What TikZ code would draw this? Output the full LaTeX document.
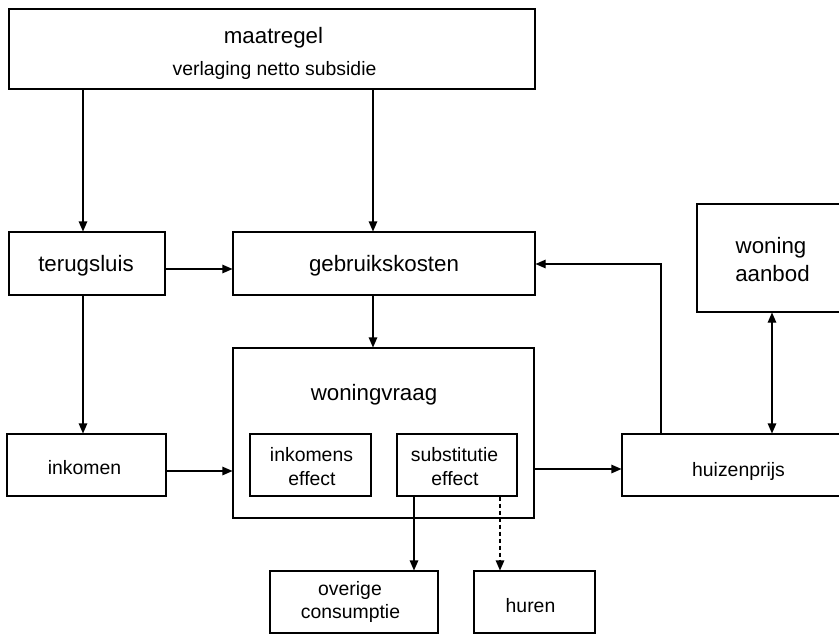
\documentclass[tikz,border=0pt]{standalone}
\usepackage{fontspec}
\setmainfont{Liberation Sans}
\usetikzlibrary{arrows.meta}
\begin{document}
\begin{tikzpicture}[x=1pt,y=-1pt,
 box/.style={draw=black, line width=1.1pt, rectangle, inner sep=0pt},
 big/.style={font=\fontsize{22.3}{26.7}\selectfont, inner sep=0pt, anchor=base},
 small/.style={font=\fontsize{19.4}{22.7}\selectfont, inner sep=0pt, anchor=base},
 arr/.style={line width=1.1pt, -{Triangle[length=10pt,width=8.5pt]}},
 darr/.style={line width=1.1pt, {Triangle[length=10pt,width=8.5pt]}-{Triangle[length=10pt,width=8.5pt]}},
]
\useasboundingbox (0,0) rectangle (839,635);
\clip (0,0) rectangle (839,635);

% boxes
\node[box, minimum width=526pt, minimum height=80pt] (maatregel) at (272,49) {};
\node[box, minimum width=156pt, minimum height=63pt] (terugsluis) at (87,263.5) {};
\node[box, minimum width=302pt, minimum height=63pt] (gebruik) at (384,263.5) {};
\node[box, minimum width=151pt, minimum height=108pt] (aanbod) at (772.5,258) {};
\node[box, minimum width=301pt, minimum height=170pt] (vraag) at (383.5,433) {};
\node[box, minimum width=121pt, minimum height=62pt] (inkeff) at (310.5,465) {};
\node[box, minimum width=120pt, minimum height=62pt] (subeff) at (457,465) {};
\node[box, minimum width=159pt, minimum height=62pt] (inkomen) at (86.5,465) {};
\node[box, minimum width=234pt, minimum height=62pt] (prijs) at (739,465) {};
\node[box, minimum width=168pt, minimum height=62pt] (overig) at (354,602) {};
\node[box, minimum width=121pt, minimum height=62pt] (huren) at (534.5,602) {};

% texts
\node[big] (tmaat) at (273.5,43) {maatregel};
\node[small] (tverl) at (274.5,75) {verlaging netto subsidie};
\node[big] (tterug) at (86,271) {terugsluis};
\node[big] (tgebr) at (384,271) {gebruikskosten};
\node[big] (twon) at (771,253) {woning};
\node[big] (taanb) at (772.5,281) {aanbod};
\node[big] (tvraag) at (374,400) {woningvraag};
\node[small] (tink1) at (311.5,461.7) {inkomens};
\node[small] (tink2) at (312,485) {effect};
\node[small] (tsub1) at (454.5,461.7) {substitutie};
\node[small] (tsub2) at (455,485) {effect};
\node[small] (tinkomen) at (84.5,474) {inkomen};
\node[small] (tprijs) at (738.5,476) {huizenprijs};
\node[small] (tov1) at (350,595.7) {overige};
\node[small] (tov2) at (350.5,618.3) {consumptie};
\node[small] (thuren) at (530.5,612.7) {huren};

% helper coordinates
\coordinate (cx1) at (83,0);
\coordinate (cx2) at (373,0);
\coordinate (cx5) at (661,0);
\coordinate (cx6) at (772,0);
\coordinate (cx7) at (414,0);
\coordinate (cx8) at (500,0);
\coordinate (cy1) at (0,269);
\coordinate (cy2) at (0,471);
\coordinate (cy3) at (0,469);
\coordinate (cy5) at (0,264);

% connectors
\draw[arr] (maatregel.south -| cx1) -- (terugsluis.north -| cx1);
\draw[arr] (maatregel.south -| cx2) -- (gebruik.north -| cx2);
\draw[arr] (terugsluis.east |- cy1) -- (gebruik.west |- cy1);
\draw[arr] (gebruik.south -| cx2) -- (vraag.north -| cx2);
\draw[arr] (terugsluis.south -| cx1) -- (inkomen.north -| cx1);
\draw[arr] (inkomen.east |- cy2) -- (vraag.west |- cy2);
\draw[arr] (vraag.east |- cy3) -- (prijs.west |- cy3);
\draw[arr] (prijs.north -| cx5) |- (gebruik.east |- cy5);
\draw[darr] (aanbod.south -| cx6) -- (prijs.north -| cx6);
\draw[arr] (subeff.south -| cx7) -- (overig.north -| cx7);
\draw[arr, dash pattern=on 4pt off 3pt] (subeff.south -| cx8) -- (huren.north -| cx8);
\end{tikzpicture}
\end{document}
